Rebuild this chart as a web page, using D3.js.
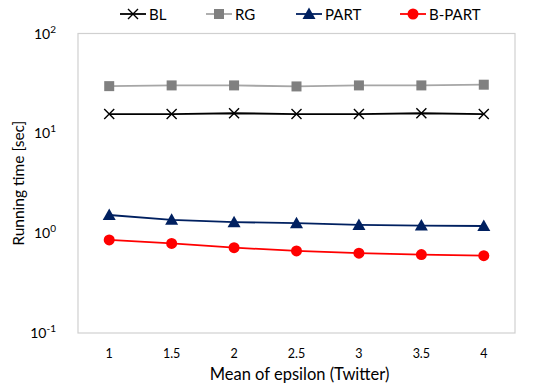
<!DOCTYPE html>
<html>
<head>
<meta charset="utf-8">
<script src="https://cdn.jsdelivr.net/npm/d3@7"></script>
<style>
  body { margin: 0; background: #fff; }
  text { font-family: Lato, "Open Sans", sans-serif; fill: #000; }
</style>
</head>
<body>
<svg id="chart"></svg>
<script>
let categories = ["1", "1.5", "2", "2.5", "3", "3.5", "4"];
let blValues = [15.6, 15.6, 15.9, 15.6, 15.6, 15.9, 15.6];
let rgValues = [29.7, 30.2, 30.2, 29.5, 30.2, 30.2, 30.7];
let partValues = [1.52, 1.36, 1.29, 1.26, 1.21, 1.19, 1.18];
let bpartValues = [0.855, 0.79, 0.716, 0.664, 0.63, 0.61, 0.595];
let yTicks = [0.1, 1, 10, 100];

let series = [
  { name: "BL", values: blValues, line: "#000", color: "#000", marker: "x" },
  { name: "RG", values: rgValues, line: "#a6a6a6", color: "#808080", marker: "square" },
  { name: "PART", values: partValues, line: "#002060", color: "#002060", marker: "triangle" },
  { name: "B-PART", values: bpartValues, line: "#ff0000", color: "#ff0000", marker: "circle" }
];

let margin = { top: 33.5, right: 25, bottom: 54, left: 78 };
let W = 540, H = 387;
let width = W - margin.left - margin.right;
let height = H - margin.top - margin.bottom;

let x = d3.scaleBand().domain(categories).range([0, width]);
let y = d3.scaleLog().domain([0.1, 100]).range([height, 0]);
let cx = d => x(d) + x.bandwidth() / 2;

let svg = d3.select("#chart").attr("width", W).attr("height", H);
let g = svg.append("g").attr("transform", "translate(" + margin.left + "," + margin.top + ")");

// plot border
g.append("rect")
  .attr("width", width).attr("height", height)
  .attr("fill", "none").attr("stroke", "#d0d0d0").attr("stroke-width", 1.2);

// Y axis labels (10^n)
let yAxis = g.append("g");
yTicks.forEach(t => {
  let e = Math.round(Math.log10(t));
  let txt = yAxis.append("text")
    .attr("x", -22).attr("y", y(t) + 5)
    .attr("text-anchor", "end")
    .style("font-size", "14px");
  txt.append("tspan").text("10");
  txt.append("tspan").attr("dy", -6).style("font-size", "10px").text(e);
});

// X axis labels
g.append("g").selectAll("text")
  .data(categories)
  .enter().append("text")
  .attr("x", d => cx(d)).attr("y", height + 25)
  .attr("text-anchor", "middle")
  .style("font-size", "12.5px")
  .text(d => d);

// axis titles
svg.append("text")
  .attr("x", margin.left + width / 2 + 3).attr("y", 380)
  .attr("text-anchor", "middle")
  .style("font-size", "16.5px")
  .text("Mean of epsilon (Twitter)");

svg.append("text")
  .attr("transform", "translate(24," + (margin.top + height / 2) + ") rotate(-90)")
  .attr("text-anchor", "middle")
  .style("font-size", "15.5px")
  .text("Running time [sec]");

function drawMarker(sel, type, color) {
  if (type === "x") {
    sel.append("path").attr("d", "M-5,-5L5,5M-5,5L5,-5")
      .attr("stroke", color).attr("stroke-width", 1.4).attr("fill", "none");
  } else if (type === "square") {
    sel.append("rect").attr("x", -5).attr("y", -5).attr("width", 10).attr("height", 10)
      .attr("fill", color);
  } else if (type === "triangle") {
    sel.append("path").attr("d", "M0,-6.5L6.5,5L-6.5,5Z").attr("fill", color);
  } else {
    sel.append("circle").attr("r", 5.5).attr("fill", color);
  }
}

let line = d3.line().x((d, i) => cx(categories[i])).y(d => y(d));

series.forEach(s => {
  g.append("path")
    .datum(s.values)
    .attr("d", line)
    .attr("fill", "none")
    .attr("stroke", s.line)
    .attr("stroke-width", 1.8);
  s.values.forEach((v, i) => {
    let m = g.append("g").attr("transform", "translate(" + cx(categories[i]) + "," + y(v) + ")");
    drawMarker(m, s.marker, s.color);
  });
});

// Legend
let legendX = [120, 206, 296, 400];
let legend = svg.append("g");
series.forEach((s, i) => {
  let lg = legend.append("g").attr("transform", "translate(" + legendX[i] + ",14)");
  lg.append("line").attr("x1", 0).attr("x2", 26).attr("y1", 0).attr("y2", 0)
    .attr("stroke", s.line).attr("stroke-width", 1.8);
  let m = lg.append("g").attr("transform", "translate(13,0)");
  drawMarker(m, s.marker, s.color);
  lg.append("text").attr("x", 29).attr("y", 5.5).style("font-size", "15px").text(s.name);
});
</script>
</body>
</html>
